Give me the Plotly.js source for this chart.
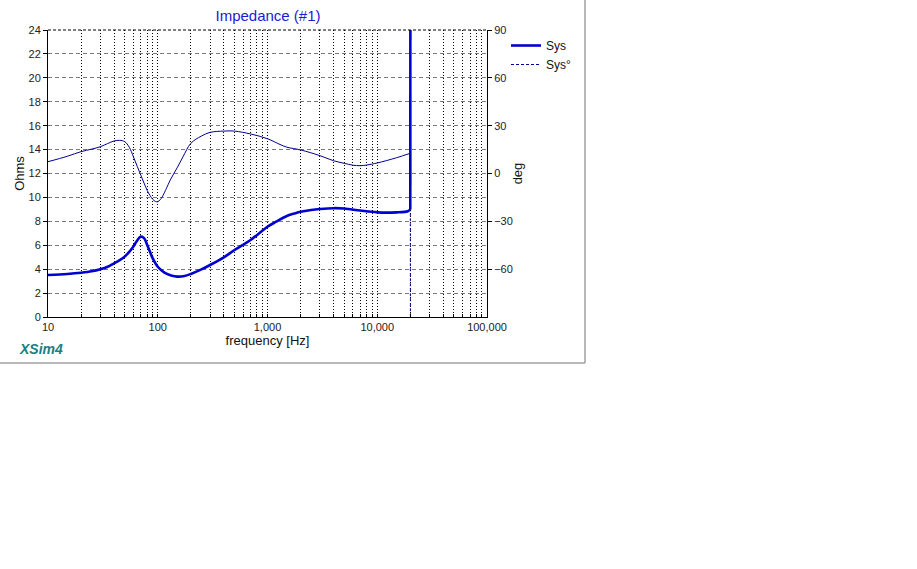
<!DOCTYPE html>
<html>
<head>
<meta charset="utf-8">
<script src="https://cdn.plot.ly/plotly-3.0.1.min.js"></script>
<style>html,body{margin:0;padding:0;background:#fff;}#chart{width:917px;height:569px;}</style>
</head>
<body>
<div id="chart"></div>
<script>
// ---- data ----
const magFreq = [10,15,20,25,30,35,40,45,50,55,60,65,70,75,80,85,90,100,110,120,135,150,170,200,250,300,400,500,700,1000,1200,1500,1750,2000,2500,3000,4000,5000,7000,10000,15000,19000,20000,20100];
const magOhms = [3.51,3.6,3.7,3.82,3.99,4.2,4.49,4.75,5.05,5.45,5.9,6.4,6.72,6.6,6.05,5.45,4.9,4.2,3.85,3.62,3.45,3.38,3.4,3.6,3.98,4.35,4.99,5.6,6.44,7.55,7.97,8.45,8.65,8.8,8.95,9.03,9.1,9.07,8.9,8.75,8.75,8.85,9.0,60];
const phaseFreq = [10,15,20,25,30,35,40,45,50,55,60,65,70,75,80,85,90,95,100,105,110,120,130,150,170,200,250,300,400,500,700,1000,1300,1500,2000,3000,4000,5000,6000,7000,8000,10000,15000,20000,20100];
const phaseDeg = [7.4,10.8,13.7,15.3,16.8,18.8,20.4,20.8,20,16.5,10.5,4.5,-1,-6,-10.5,-13.8,-16.2,-17.5,-17.7,-16.5,-14.6,-9.3,-4.1,3.5,10.5,18.9,23.5,25.8,26.6,26.6,24.8,21.8,18.2,16.5,14.8,11.2,8,6.4,5.2,4.9,5.3,6.6,9.9,12.7,-200];
const decadeTicks = [10,100,1000,10000,100000];
const decadeLabels = ['10','100','1,000','10,000','100,000'];
const ohmTicks = [0,2,4,6,8,10,12,14,16,18,20,22,24];
const degTicks = [-60,-30,0,30,60,90];
const titleText = 'Impedance (#1)';
const magName = 'Sys';
const phaseName = 'Sys°';

// minor gridline positions (2..9 of each decade)
const minorTicks = [];
for (let d = 10; d < 100000; d *= 10) for (let k = 2; k <= 9; k++) minorTicks.push(d * k);

// ---- geometry helpers (pixels -> paper) ----
const W = 917, H = 569, L = 48, R = 487, T = 30, B = 317;
const px = x => (x - L) / (R - L);
const py = y => (B - y) / (B - T);

// split each series into the smooth curve and the jump at 20 kHz
const JUMP_F = 20000;
const mj = magFreq.indexOf(JUMP_F), pj = phaseFreq.indexOf(JUMP_F);

const FONT = 'Liberation Sans, Arial, sans-serif';
const MAGC = '#0000D0', PHC = '#000090';
const traces = [
  {x: magFreq.slice(0, mj + 1), y: magOhms.slice(0, mj + 1), name: magName, type: 'scatter', mode: 'lines',
   line: {color: MAGC, width: 2.6, shape: 'spline', smoothing: 1}, yaxis: 'y', legendrank: 1},
  {x: magFreq.slice(mj), y: magOhms.slice(mj), name: magName, type: 'scatter', mode: 'lines',
   line: {color: MAGC, width: 2.6}, yaxis: 'y', showlegend: false},
  {x: phaseFreq.slice(0, pj + 1), y: phaseDeg.slice(0, pj + 1), name: phaseName, type: 'scatter', mode: 'lines',
   line: {color: PHC, width: 1, shape: 'spline', smoothing: 1}, yaxis: 'y2', showlegend: false},
  {x: phaseFreq.slice(pj), y: phaseDeg.slice(pj), name: phaseName, type: 'scatter', mode: 'lines',
   line: {color: PHC, width: 1, dash: '3px,2px'}, yaxis: 'y2', showlegend: false},
  {x: [1e6], y: [0], name: phaseName, type: 'scatter', mode: 'lines',
   line: {color: PHC, width: 1, dash: '3px,2px'}, yaxis: 'y2', showlegend: true, legendrank: 2}
];

const tickFont = {family: FONT, size: 11, color: '#222'};
const layout = {
  width: W, height: H,
  margin: {l: L, r: W - R, t: T, b: H - B, pad: 0},
  paper_bgcolor: '#fff', plot_bgcolor: '#fff',
  showlegend: true,
  title: {text: titleText, font: {family: FONT, size: 15, color: '#1a1ad8'},
          x: px(268), xref: 'paper', xanchor: 'center', y: 1 - 16 / H, yref: 'container', yanchor: 'middle'},
  xaxis: {
    type: 'log', range: [1, 5], autorange: false,
    tickmode: 'array', tickvals: decadeTicks, ticktext: decadeLabels,
    tickfont: tickFont, ticks: 'inside', ticklen: 3, tickcolor: '#000',
    showline: true, linecolor: '#000', linewidth: 1,
    showgrid: true, gridcolor: '#000', gridwidth: 1, griddash: '1px,2px',
    zeroline: false,
    minor: {tickmode: 'array', tickvals: minorTicks, ticks: 'inside', ticklen: 3, tickcolor: '#000',
            showgrid: true, gridcolor: '#000', gridwidth: 1, griddash: '1px,2px'},
    title: {text: 'frequency [Hz]', font: {family: FONT, size: 13, color: '#111'}, standoff: 2}
  },
  yaxis: {
    range: [0, 24], autorange: false,
    tickmode: 'array', tickvals: ohmTicks,
    tickfont: tickFont, ticks: 'outside', ticklen: 4, tickcolor: '#000',
    showline: true, linecolor: '#000', linewidth: 1,
    showgrid: true, gridcolor: '#7a7a7a', gridwidth: 1, griddash: '4px,3px',
    zeroline: false,
    title: {text: 'Ohms', font: {family: FONT, size: 13, color: '#111'}, standoff: 0}
  },
  yaxis2: {
    overlaying: 'y', side: 'right', anchor: 'x',
    range: [-90, 90], autorange: false,
    tickmode: 'array', tickvals: degTicks,
    tickfont: tickFont, ticks: 'outside', ticklen: 4, tickcolor: '#000',
    showline: true, linecolor: '#000', linewidth: 1,
    showgrid: false, zeroline: false,
    title: {text: 'deg', font: {family: FONT, size: 13, color: '#111'}, standoff: 1}
  },
  legend: {x: px(506), y: py(31), xanchor: 'left', yanchor: 'top',
           bgcolor: 'rgba(0,0,0,0)', font: {family: FONT, size: 12, color: '#111'},
           tracegroupgap: 0, traceorder: 'normal'},
  shapes: [
    {type: 'line', xref: 'paper', yref: 'paper', x0: 0, x1: 1, y0: 1, y1: 1,
     line: {color: '#000', width: 1, dash: '3px,2px'}},
    {type: 'line', xref: 'paper', yref: 'paper', x0: px(585), x1: px(585), y0: py(0), y1: py(363),
     line: {color: '#a0a0a0', width: 1.5}},
    {type: 'line', xref: 'paper', yref: 'paper', x0: px(0), x1: px(585), y0: py(363), y1: py(363),
     line: {color: '#a0a0a0', width: 1.5}}
  ],
  annotations: [
    {text: '<b><i>XSim4</i></b>', xref: 'paper', yref: 'paper', x: px(17), y: py(349),
     xanchor: 'left', yanchor: 'middle', showarrow: false,
     font: {family: FONT, size: 14, color: '#1b8080'}}
  ]
};

Plotly.newPlot('chart', traces, layout, {displayModeBar: false, staticPlot: true});
</script>
</body>
</html>
